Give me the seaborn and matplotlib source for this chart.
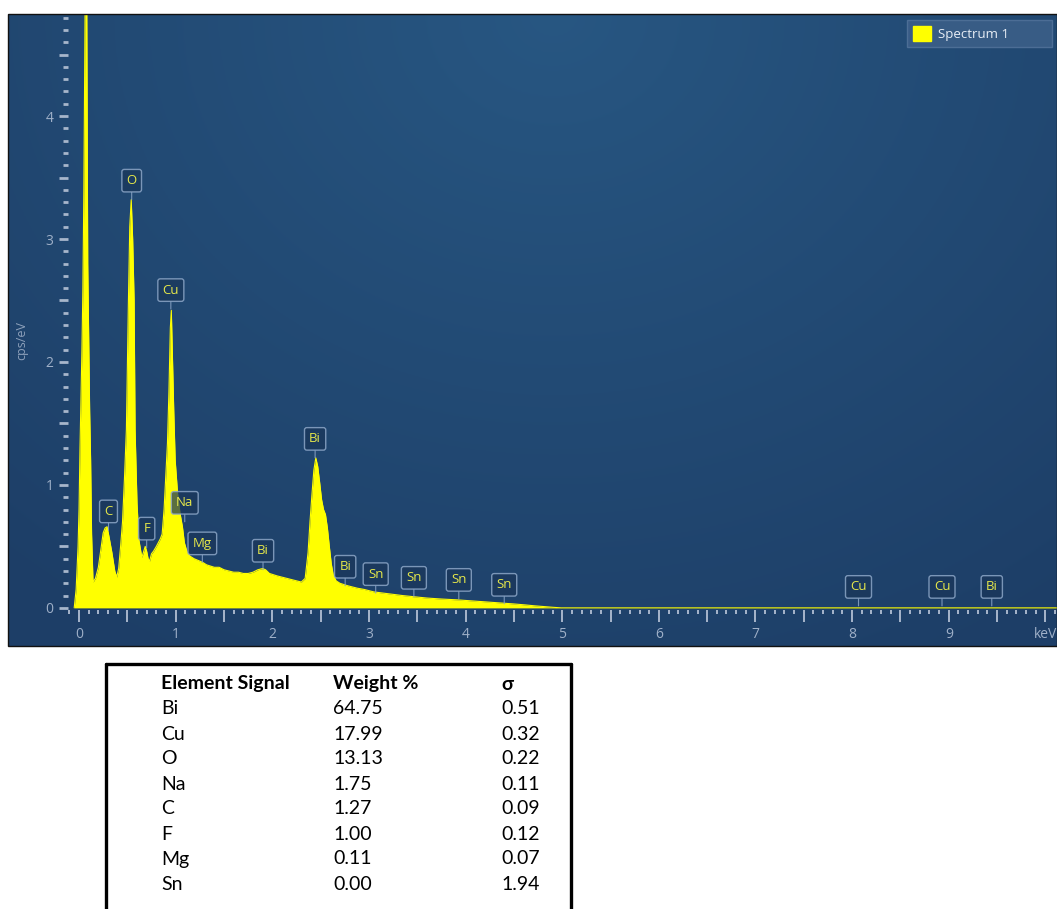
import numpy as np
import matplotlib
matplotlib.use("Agg")
import matplotlib.pyplot as plt
import seaborn as sns
from matplotlib.patches import Patch, Rectangle
from matplotlib.lines import Line2D
from matplotlib.ticker import FixedLocator, FuncFormatter

# spectrum (keV, cps/eV)
energy_kev = [
    -0.05, -0.03, -0.01, 0.00, 0.01, 0.02, 0.03, 0.04, 0.05, 0.06, 0.07, 0.08,
    0.09, 0.10, 0.11, 0.12, 0.13, 0.145, 0.17, 0.20, 0.23, 0.25, 0.27, 0.29,
    0.31, 0.34, 0.37, 0.39, 0.41, 0.43, 0.45, 0.47, 0.49, 0.51, 0.525, 0.54,
    0.555, 0.57, 0.58, 0.60, 0.62, 0.65, 0.67, 0.685, 0.70, 0.715, 0.73, 0.75,
    0.77, 0.80, 0.82, 0.84, 0.86, 0.88, 0.90, 0.915, 0.93, 0.945, 0.955, 0.968,
    0.98, 0.995, 1.02, 1.045, 1.07, 1.09, 1.12, 1.15, 1.19, 1.22, 1.25, 1.28,
    1.32, 1.36, 1.40, 1.45, 1.50, 1.55, 1.60, 1.65, 1.70, 1.75, 1.80, 1.85,
    1.90, 1.93, 1.97, 2.01, 2.05, 2.10, 2.15, 2.20, 2.25, 2.30, 2.34, 2.37,
    2.39, 2.41, 2.43, 2.45, 2.47, 2.49, 2.51, 2.53, 2.55, 2.57, 2.59, 2.61,
    2.63, 2.66, 2.70, 2.74, 2.78, 2.83, 2.88, 2.95, 3.05, 3.15, 3.25, 3.35,
    3.47, 3.60, 3.75, 3.92, 4.10, 4.25, 4.37, 4.50, 4.62, 4.71, 4.80, 4.90,
    4.99, 5.05, 10.12,
]
cps_per_ev = [
    0.0, 0.15, 0.5, 0.8, 1.3, 1.7, 2.1, 2.6, 3.4, 4.6, 5.6, 4.9,
    2.8, 2.2, 1.6, 1.2, 0.6, 0.21, 0.24, 0.33, 0.50, 0.61, 0.65, 0.66,
    0.58, 0.45, 0.30, 0.25, 0.32, 0.50, 0.70, 1.05, 1.45, 2.45, 3.1, 3.32,
    3.0, 2.5, 1.45, 0.85, 0.55, 0.41, 0.46, 0.50, 0.46, 0.40, 0.38, 0.44,
    0.46, 0.50, 0.53, 0.56, 0.60, 0.80, 1.10, 1.34, 1.75, 2.28, 2.42, 2.0,
    1.61, 1.20, 0.93, 0.77, 0.66, 0.53, 0.45, 0.42, 0.40, 0.39, 0.38, 0.37,
    0.35, 0.34, 0.33, 0.33, 0.31, 0.30, 0.29, 0.29, 0.28, 0.28, 0.29, 0.31,
    0.32, 0.31, 0.28, 0.27, 0.26, 0.25, 0.24, 0.23, 0.22, 0.21, 0.24, 0.45,
    0.70, 0.92, 1.12, 1.22, 1.15, 1.02, 0.88, 0.80, 0.76, 0.65, 0.50, 0.36,
    0.27, 0.22, 0.20, 0.19, 0.18, 0.17, 0.16, 0.15, 0.13, 0.12, 0.11, 0.10,
    0.09, 0.08, 0.072, 0.065, 0.055, 0.047, 0.04, 0.032, 0.024, 0.017, 0.011, 0.005,
    0.0, 0.0, 0.0,
]

# peak markers
peak_names = ["C", "O", "F", "Cu", "Na", "Mg", "Bi", "Bi", "Bi",
              "Sn", "Sn", "Sn", "Sn", "Cu", "Cu", "Bi"]
peak_kev = [0.305, 0.545, 0.70, 0.95, 1.094, 1.276, 1.904, 2.443, 2.754,
            3.07, 3.465, 3.93, 4.40, 8.066, 8.93, 9.445]
peak_cps = [0.63, 3.32, 0.49, 2.43, 0.70, 0.37, 0.31, 1.22, 0.18,
            0.12, 0.09, 0.073, 0.033, 0.016, 0.016, 0.016]

# quant table
elements = ["Bi", "Cu", "O", "Na", "C", "F", "Mg", "Sn"]
weight_pct = [64.75, 17.99, 13.13, 1.75, 1.27, 1.00, 0.11, 0.00]
sigma = [0.51, 0.32, 0.22, 0.11, 0.09, 0.12, 0.07, 1.94]

W, H = 1057, 909
sns.set_theme(style="white")
plt.rcParams["font.family"] = ["Open Sans", "DejaVu Sans"]

fig = plt.figure(figsize=(W / 100, H / 100), dpi=100)
fig.patch.set_facecolor("white")

# chart panel
left, top, right, bottom = 8, 14, 1057, 646
ax = fig.add_axes([left / W, 1 - bottom / H, (right - left) / W, (bottom - top) / H])
ax.set_facecolor("#1e406b")

# soft radial glow of the panel
u = np.linspace(0, 1, 400)
v = np.linspace(0, 1, 300)
uu, vv = np.meshgrid(u, v)
d = np.clip(np.sqrt(((uu - 0.52) / 0.8) ** 2 + ((vv - 1.0) / 1.15) ** 2), 0, 1)
c_in = np.array([0.155, 0.34, 0.51])
c_out = np.array([0.115, 0.245, 0.405])
img = c_in[None, None, :] * (1 - d[..., None]) + c_out[None, None, :] * d[..., None]
ax.imshow(img, extent=(0, 1, 0, 1), origin="lower", transform=ax.transAxes,
          aspect="auto", zorder=0)

ax.fill_between(energy_kev, cps_per_ev, 0, color="#ffff00", lw=0, zorder=3)
sns.lineplot(x=energy_kev, y=cps_per_ev, color="#ffff00", lw=0.8, ax=ax, zorder=3)

ax.set_xlim(-0.735, 10.12)
ax.set_ylim(-0.31, 4.83)

label_fc = (0.10, 0.21, 0.35, 0.72)
label_ec = (0.55, 0.65, 0.78, 0.85)
for name, e, c in zip(peak_names, peak_kev, peak_cps):
    ax.annotate(name, xy=(e, c), xytext=(0, 19), textcoords="offset pixels",
                ha="center", va="center", fontsize=9.5, color="#e6e84a",
                bbox=dict(boxstyle="round,pad=0.36,rounding_size=0.18",
                          fc=label_fc, ec=label_ec, lw=1),
                arrowprops=dict(arrowstyle="-", color=label_ec, lw=0.8,
                                shrinkA=0, shrinkB=0),
                zorder=6)

# axes: ticks only, spines hidden
for s in ax.spines.values():
    s.set_visible(False)
ax.spines["bottom"].set_position(("data", -0.016))
ax.spines["left"].set_position(("data", -0.114))

tick_col = "#a7b6cb"
ax.xaxis.set_major_locator(FixedLocator([i * 0.5 for i in range(21)]))
ax.xaxis.set_minor_locator(FixedLocator([i * 0.1 - 0.1 for i in range(103)]))
ax.xaxis.set_major_formatter(FuncFormatter(
    lambda x, p: "keV" if abs(x - 10) < 1e-6 else (f"{x:.0f}" if abs(x - round(x)) < 1e-6 else "")))
ax.yaxis.set_major_locator(FixedLocator([i * 0.5 for i in range(10)]))
ax.yaxis.set_minor_locator(FixedLocator([i * 0.1 for i in range(49)]))
ax.yaxis.set_major_formatter(FuncFormatter(
    lambda y, p: f"{y:.0f}" if abs(y - round(y)) < 1e-6 else ""))

ax.tick_params(axis="x", which="major", direction="out", length=8.5, width=1.4,
               color=tick_col, labelcolor="#9fb0c8", labelsize=10, pad=4, bottom=True)
ax.tick_params(axis="x", which="minor", direction="out", length=3, width=1.4,
               color=tick_col, bottom=True)
ax.tick_params(axis="y", which="major", direction="out", length=6.5, width=2.0,
               color=tick_col, labelcolor="#9fb0c8", labelsize=10, pad=4, left=True)
ax.tick_params(axis="y", which="minor", direction="out", length=3.6, width=2.0,
               color=tick_col, left=True)

ax.text(0.0133, 0.484, "cps/eV", transform=ax.transAxes, rotation=90,
        ha="center", va="center", fontsize=9, color="#8ea1bb")

leg = ax.legend(handles=[Patch(fc="#ffff00", ec="#ffff00", label="Spectrum 1")],
                loc="upper left", bbox_to_anchor=(0.857, 0.0, 0.138, 0.9905),
                mode="expand", borderaxespad=0, fontsize=9.5, handlelength=1.4,
                handleheight=1.4, handletextpad=0.5, borderpad=0.45,
                fancybox=False, framealpha=0.85)
leg.get_frame().set_facecolor("#3d6089")
leg.get_frame().set_edgecolor("#52739a")
for t in leg.get_texts():
    t.set_color("#e8eef6")
leg.set_zorder(7)

# panel border
ax.add_patch(Rectangle((0, 0), 1, 1, transform=ax.transAxes, fill=False,
                       ec="#111111", lw=1.0, clip_on=False, zorder=8))

# quant table below the chart
def fx(px):
    return px / W


def fy(py):
    return 1 - py / H


for xs, ys in [((106, 106), (664, 909)), ((106, 571), (664, 664)), ((571, 571), (664, 909))]:
    fig.add_artist(Line2D([fx(x) for x in xs], [fy(y) for y in ys],
                          color="black", lw=2.4, transform=fig.transFigure))

tfont = ["Lato", "DejaVu Sans"]
col_x = [161, 333, 501]
header_y = 684
row_h = 25.0
for x, txt in zip(col_x, ["Element Signal", "Weight %", "σ"]):
    fig.text(fx(x), fy(header_y), txt, ha="left", va="center", fontsize=14,
             fontweight="bold", color="black", family=tfont)
for i, (el, w, s) in enumerate(zip(elements, weight_pct, sigma)):
    y = header_y + (i + 1) * row_h
    for x, txt in zip(col_x, [el, f"{w:.2f}", f"{s:.2f}"]):
        fig.text(fx(x), fy(y), txt, ha="left", va="center", fontsize=14,
                 color="black", family=tfont)

fig.savefig("out.png", dpi=100, facecolor="white")
